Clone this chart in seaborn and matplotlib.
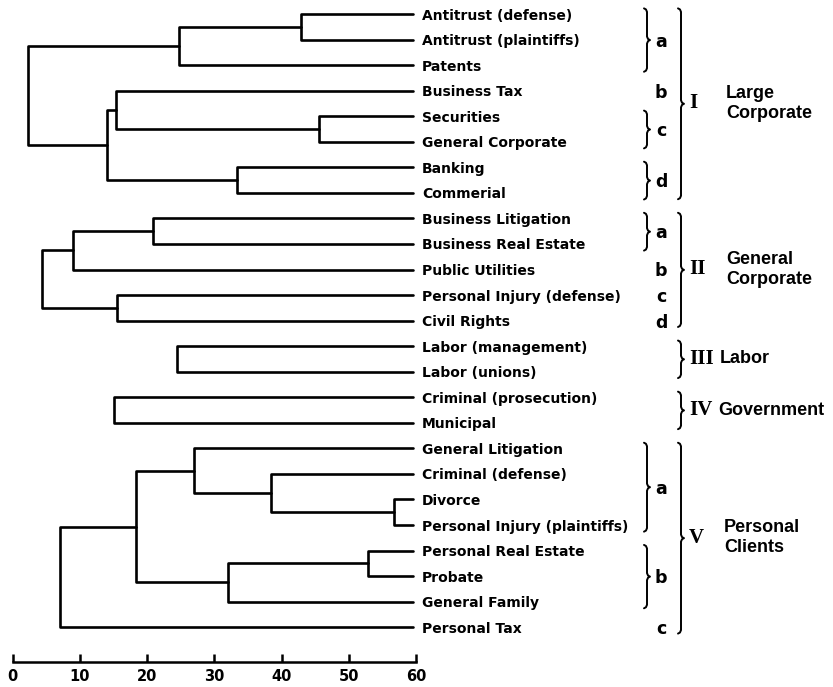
import numpy as np
import pandas as pd
import matplotlib
matplotlib.use("Agg")
import matplotlib.pyplot as plt
import seaborn as sns

# ---------------- data ----------------
leaves = [
    "Antitrust (defense)", "Antitrust (plaintiffs)", "Patents", "Business Tax",
    "Securities", "General Corporate", "Banking", "Commerial",
    "Business Litigation", "Business Real Estate", "Public Utilities",
    "Personal Injury (defense)", "Civil Rights",
    "Labor (management)", "Labor (unions)",
    "Criminal (prosecution)", "Municipal",
    "General Litigation", "Criminal (defense)", "Divorce",
    "Personal Injury (plaintiffs)", "Personal Real Estate", "Probate",
    "General Family", "Personal Tax",
]
leaf_level = 59.5

link_left = ["Antitrust (defense)", "A1", "Securities", "Business Tax", "Banking", "A4", "A2",
             "Business Litigation", "B1", "Personal Injury (defense)", "B2",
             "Labor (management)", "Criminal (prosecution)",
             "Divorce", "Criminal (defense)", "General Litigation",
             "Personal Real Estate", "C4", "C3", "C6"]
link_right = ["Antitrust (plaintiffs)", "Patents", "General Corporate", "A3", "Commerial", "A5", "A6",
              "Business Real Estate", "Public Utilities", "Civil Rights", "B3",
              "Labor (unions)", "Municipal",
              "Personal Injury (plaintiffs)", "C1", "C2",
              "Probate", "General Family", "C5", "Personal Tax"]
link_height = [42.9, 24.8, 45.6, 15.3, 33.4, 14.1, 2.3,
               20.9, 9.0, 15.5, 4.4,
               24.5, 15.1,
               56.7, 38.5, 27.0,
               52.8, 32.1, 18.4, 7.0]
link_name = ["A1", "A2", "A3", "A4", "A5", "A6", "I",
             "B1", "B2", "B3", "II",
             "III", "IV",
             "C1", "C2", "C3",
             "C4", "C5", "C6", "V"]

sub_letters = ["a", "b", "c", "d", "a", "b", "c", "d", "a", "b", "c"]
sub_first = [0, 3, 4, 6, 8, 10, 11, 12, 17, 21, 24]
sub_last = [2, 3, 5, 7, 9, 10, 11, 12, 20, 23, 24]

group_numerals = ["I", "II", "III", "IV", "V"]
group_names = ["Large\nCorporate", "General\nCorporate", "Labor", "Government", "Personal\nClients"]
group_first = [0, 8, 13, 15, 17]
group_last = [7, 12, 14, 16, 24]

axis_ticks = [0, 10, 20, 30, 40, 50, 60]

# ---------------- layout helpers ----------------
PX_PER_UNIT = 6.72
PX_PER_ROW = 25.55
px_x = 1.0 / PX_PER_UNIT
px_y = 1.0 / PX_PER_ROW

def xdata(px):
    return (px - 12.7) / PX_PER_UNIT

# ---------------- build dendrogram segments ----------------
pos = {name: (leaf_level, float(i)) for i, name in enumerate(leaves)}
rows = []
for k, (l, r, h, nm) in enumerate(zip(link_left, link_right, link_height, link_name)):
    xl, yl = pos[l]
    xr, yr = pos[r]
    for x, y in [(xl, yl), (h, yl), (h, yr), (xr, yr)]:
        rows.append({"seg": k, "x": x, "y": y})
    pos[nm] = (h, (yl + yr) / 2.0)
df = pd.DataFrame(rows)

# ---------------- figure ----------------
sns.set_style("white")
plt.rcParams["font.family"] = ["DejaVu Sans"]

fig = plt.figure(figsize=(8.33, 6.87), dpi=100)
ax = fig.add_axes([0, 25 / 687, 1, 662 / 687])

sns.lineplot(data=df, x="x", y="y", units="seg", estimator=None, sort=False,
             color="black", linewidth=1.9, ax=ax, legend=False)

ax.set_xlim(xdata(0), xdata(833))
ax.set_ylim((662 - 14) / PX_PER_ROW, -14 / PX_PER_ROW)
ax.set_xlabel("")
ax.set_ylabel("")
ax.set_yticks([])
for s in ["top", "right", "left"]:
    ax.spines[s].set_visible(False)
ax.spines["bottom"].set_bounds(0, 60)
ax.spines["bottom"].set_linewidth(1.8)
ax.spines["bottom"].set_color("black")
ax.set_xticks(axis_ticks)
ax.set_xticklabels([str(t) for t in axis_ticks], fontsize=10.5, fontweight="bold")
ax.tick_params(axis="x", direction="in", length=6, width=1.8, pad=5, colors="black", bottom=True)

# leaf labels
label_x = xdata(422)
for i, name in enumerate(leaves):
    ax.text(label_x, i, name, ha="left", va="center_baseline", fontsize=10,
            fontweight="bold", color="black", clip_on=False)

def brace(x0, y0, y1, w=3.0, lw=1.4):
    hx = w * px_x
    hy = 3.5 * px_y
    ym = (y0 + y1) / 2.0
    xs = [x0 - hx, x0 - 0.35 * hx, x0, x0, x0 + 0.35 * hx, x0 + hx,
          x0 + 0.35 * hx, x0, x0, x0 - 0.35 * hx, x0 - hx]
    ys = [y0, y0 + 0.3 * hy, y0 + hy, ym - hy, ym - 0.3 * hy, ym,
          ym + 0.3 * hy, ym + hy, y1 - hy, y1 - 0.3 * hy, y1]
    ax.plot(xs, ys, color="black", lw=lw, clip_on=False, solid_joinstyle="round")

# subgroup braces and letters
small_brace_x = xdata(647)
letter_x = xdata(661)
for let, f, l in zip(sub_letters, sub_first, sub_last):
    if l > f:
        brace(small_brace_x, f - 0.22, l + 0.26)
    ax.text(letter_x, (f + l) / 2.0, let, ha="center", va="center_baseline",
            fontsize=12.5, fontweight="bold", color="black")

# group braces, numerals and names
big_brace_x = xdata(681)
numeral_x = xdata(689)
name_px = [726, 726, 720, 718, 724]
for num, nm, f, l, npx in zip(group_numerals, group_names, group_first, group_last, name_px):
    brace(big_brace_x, f - 0.22, l + 0.25)
    ym = (f + l) / 2.0
    ax.text(numeral_x, ym, num, ha="left", va="center", fontsize=15,
            fontweight="bold", family=["Liberation Serif", "DejaVu Serif"], color="black")
    ax.text(xdata(npx), ym, nm, ha="left", va="center", fontsize=13,
            fontweight="bold", family=["Liberation Sans", "DejaVu Sans"],
            color="black", linespacing=1.2)

fig.savefig("out.png", dpi=100, facecolor="white")
